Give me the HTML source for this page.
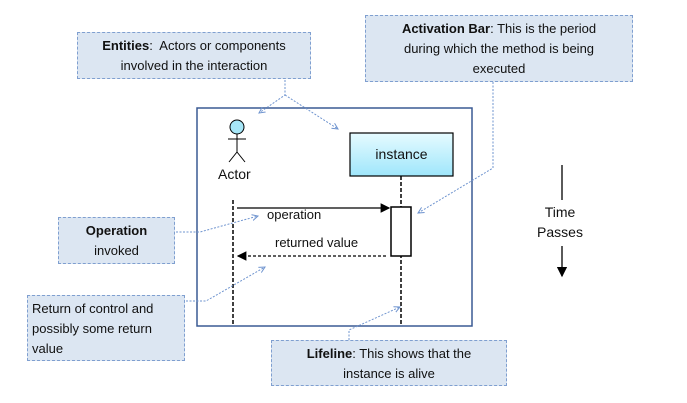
<!DOCTYPE html>
<html><head><style>
body{margin:0;width:687px;height:403px;background:#fff;font-family:"Liberation Sans",Arial,sans-serif;position:relative;overflow:hidden}
.n{position:absolute;background:#dce6f2;border:1px dashed #7f9fd0;box-sizing:border-box;font-size:13px;line-height:20px;color:#111;text-align:center;white-space:nowrap}
.t{position:absolute;font-size:13px;color:#111}
</style></head><body>
<svg width="687" height="403" style="position:absolute;left:0;top:0">
<defs>
<linearGradient id="g" x1="0" y1="0" x2="0" y2="1"><stop offset="0" stop-color="#e6fbff"/><stop offset="1" stop-color="#9fe6fb"/></linearGradient>
<marker id="a" markerWidth="8" markerHeight="8" refX="7" refY="4" orient="auto"><path d="M0,0 L8,4 L0,8z" fill="#000"/></marker>
<marker id="b" markerWidth="8" markerHeight="8" refX="6" refY="4" orient="auto"><path d="M0,1 L6,4 L0,7" fill="none" stroke="#6f94cf"/></marker>
</defs>
<rect x="197" y="108" width="275" height="218" fill="#fff" stroke="#3a5a94" stroke-width="1.5"/>
<circle cx="237" cy="127" r="7" fill="#a6e6f7" stroke="#000"/>
<path d="M237 134V152M228 139H246M237 152L229 162M237 152L245 162" stroke="#000" fill="none"/>
<rect x="350" y="133" width="103" height="43" fill="url(#g)" stroke="#000" stroke-width="1.2"/>
<path d="M233 200V325M401 176V325" stroke="#000" stroke-width="1.5" stroke-dasharray="4,2"/>
<rect x="391" y="207" width="20" height="49" fill="#fff" stroke="#000" stroke-width="1.5"/>
<path d="M237 208H389" stroke="#000" stroke-width="1.2" marker-end="url(#a)"/>
<path d="M386 256H238" stroke="#000" stroke-width="1.2" stroke-dasharray="3,2" marker-end="url(#a)"/>
<g stroke="#6f94cf" fill="none" stroke-dasharray="2,1.5">
<path d="M285 80V95L259 113" marker-end="url(#b)"/>
<path d="M285 95L338 129" marker-end="url(#b)"/>
<path d="M493 82V168L418 213" marker-end="url(#b)"/>
<path d="M176 232H200L258 216" marker-end="url(#b)"/>
<path d="M186 301H206L265 267" marker-end="url(#b)"/>
<path d="M349 340V330L400 307" marker-end="url(#b)"/>
</g>
<path d="M562 165V276" stroke="#000" stroke-width="1.3" marker-end="url(#a)"/>
<rect x="525" y="200" width="70" height="46" fill="#fff"/>
</svg>
<div class="t" style="left:218px;top:166px;font-size:14px">Actor</div>
<div class="t" style="left:350px;top:146px;width:103px;text-align:center;font-size:14px">instance</div>
<div class="t" style="left:267px;top:207px">operation</div>
<div class="t" style="left:275px;top:235px">returned value</div>
<div class="t" style="left:520px;top:202px;width:80px;text-align:center;line-height:20px;font-size:14px">Time<br>Passes</div>
<div class="n" style="left:77px;top:32px;width:234px;height:47px;padding-top:3px"><b>Entities</b>:&nbsp; Actors or components<br>involved in the interaction</div>
<div class="n" style="left:365px;top:15px;width:268px;height:67px;padding-top:3px"><b>Activation Bar</b>: This is the period<br>during which the method is being<br>executed</div>
<div class="n" style="left:58px;top:217px;width:117px;height:47px;padding-top:3px"><b>Operation</b><br>invoked</div>
<div class="n" style="left:27px;top:295px;width:158px;height:66px;padding:3px 4px;text-align:left">Return of control and<br>possibly some return<br>value</div>
<div class="n" style="left:271px;top:340px;width:236px;height:46px;padding-top:3px"><b>Lifeline</b>: This shows that the<br>instance is alive</div>
</body></html>
